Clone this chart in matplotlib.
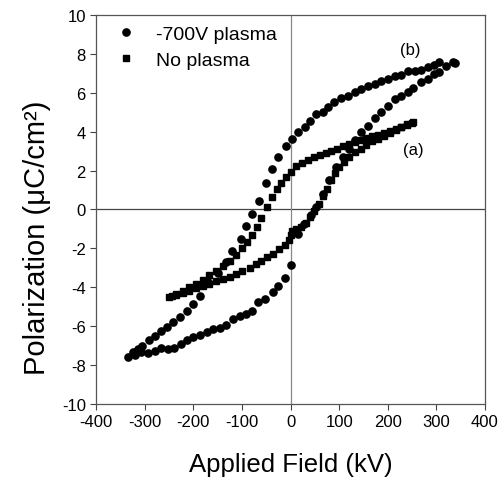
import matplotlib
matplotlib.use("Agg")
import matplotlib.pyplot as plt

plt.rcParams["font.family"] = ["Liberation Sans", "DejaVu Sans"]
plt.rcParams["axes.unicode_minus"] = False

# -700V plasma loop (descending branch, then ascending branch)
plasma_field = [338, 306, 296, 282, 269, 255, 241, 228, 214, 200, 186, 173, 160, 145, 132,
                118, 104, 90, 77, 66, 53, 40, 29, 15, 3, -10, -26, -38, -51, -66, -80, -91,
                -103, -120, -132, -150, -170, -187, -201, -213, -228, -242, -254, -266, -280,
                -291, -306, -314, -324, -335,
                -321, -307, -293, -280, -266, -252, -239, -226, -213, -201, -187, -173, -160,
                -146, -132, -119, -105, -91, -79, -67, -53, -36, -26, -12, 1, 15, 28, 41, 53,
                66, 80, 94, 108, 121, 133, 145, 160, 173, 186, 200, 214, 228, 241, 251, 269,
                282, 296, 306, 320, 334]
plasma_pol = [7.55, 7.6, 7.4, 7.33, 7.19, 7.14, 7.09, 6.92, 6.85, 6.71, 6.62, 6.45, 6.33, 6.2,
              6.06, 5.85, 5.72, 5.51, 5.25, 5.0, 4.91, 4.57, 4.23, 3.97, 3.62, 3.28, 2.68, 2.08,
              1.36, 0.45, -0.23, -0.86, -1.52, -2.15, -2.7, -3.25, -3.75, -4.43, -4.86, -5.2,
              -5.54, -5.8, -6.06, -6.23, -6.49, -6.69, -7.0, -7.17, -7.34, -7.6,
              -7.5, -7.35, -7.38, -7.26, -7.14, -7.17, -7.14, -6.9, -6.69, -6.57, -6.45, -6.28,
              -6.14, -6.09, -5.94, -5.63, -5.46, -5.37, -5.2, -4.77, -4.6, -4.23, -3.92, -3.54,
              -2.85, -1.26, -0.75, -0.3, 0.11, 0.8, 1.5, 2.2, 2.7, 3.1, 3.55, 3.97, 4.31, 4.69,
              5.0, 5.34, 5.68, 5.85, 6.03, 6.23, 6.54, 6.71, 6.97, 7.08, 7.39, 7.57]

# no plasma loop
bare_field = [252, 240, 228, 216, 204, 192, 180, 168, 156, 144, 132, 120, 108, 96, 84, 72, 60,
              48, 36, 24, 12, 0, -9, -19, -28, -38, -49, -60, -69, -79, -89, -99, -112, -125,
              -139, -153, -167, -180, -194, -208, -222, -236, -250,
              -243, -235, -222, -208, -194, -180, -167, -153, -139, -125, -112, -99, -84, -72,
              -60, -48, -36, -24, -12, -3, 0, 3, 12, 22, 32, 40, 49, 58, 66, 75, 84, 92, 100,
              110, 120, 132, 144, 156, 168, 180, 192, 204, 216, 228, 240, 250]
bare_pol = [4.48, 4.38, 4.25, 4.15, 4.05, 3.95, 3.85, 3.75, 3.65, 3.55, 3.45, 3.35, 3.25, 3.12,
            3.0, 2.9, 2.8, 2.68, 2.55, 2.4, 2.22, 1.91, 1.65, 1.35, 1.05, 0.63, 0.11, -0.45,
            -0.92, -1.31, -1.66, -2.0, -2.34, -2.63, -2.89, -3.15, -3.37, -3.61, -3.83, -4.0,
            -4.18, -4.33, -4.48,
            -4.45, -4.38, -4.3, -4.18, -4.05, -3.95, -3.82, -3.7, -3.6, -3.45, -3.32, -3.18,
            -2.99, -2.82, -2.65, -2.47, -2.27, -2.05, -1.82, -1.55, -1.3, -1.1, -1.0, -0.88,
            -0.7, -0.4, -0.06, 0.3, 0.7, 1.05, 1.5, 1.85, 2.2, 2.45, 2.7, 2.94, 3.12, 3.3, 3.5,
            3.62, 3.8, 3.95, 4.1, 4.22, 4.35, 4.45]

fig = plt.figure(figsize=(5.01, 4.81), dpi=100)
ax = fig.add_axes([0.192, 0.158, 0.776, 0.809])

ax.axhline(0, color="#444444", lw=0.9, zorder=1)
ax.axvline(0, color="#888888", lw=0.9, zorder=1)

ax.plot(plasma_field, plasma_pol, "o", color="black", ms=5.2, ls="none", label="-700V plasma")
ax.plot(bare_field, bare_pol, "s", color="black", ms=4.4, ls="none", label="No plasma")

ax.text(247, 8.2, "(b)", fontsize=12, ha="center", va="center")
ax.text(252, 3.1, "(a)", fontsize=12, ha="center", va="center")

ax.set_xlim(-400, 400)
ax.set_ylim(-10, 10)
ax.set_xticks(range(-400, 401, 100))
ax.set_yticks(range(-10, 11, 2))
ax.tick_params(direction="out", length=4, width=0.8, labelsize=12, top=False, right=False,
               color="#444444")
for s in ax.spines.values():
    s.set_color("#555555")
    s.set_linewidth(0.9)

ax.set_xlabel("Applied Field (kV)", fontsize=18.5, labelpad=16)
ax.set_ylabel("Polarization (μC/cm²)", fontsize=21)
ax.yaxis.set_label_coords(-0.115, 0.43)

ax.legend(loc="upper left", frameon=False, fontsize=14, handletextpad=0.55,
          borderaxespad=0.0, labelspacing=0.4, borderpad=0.55)

fig.savefig("out.png", dpi=100)
